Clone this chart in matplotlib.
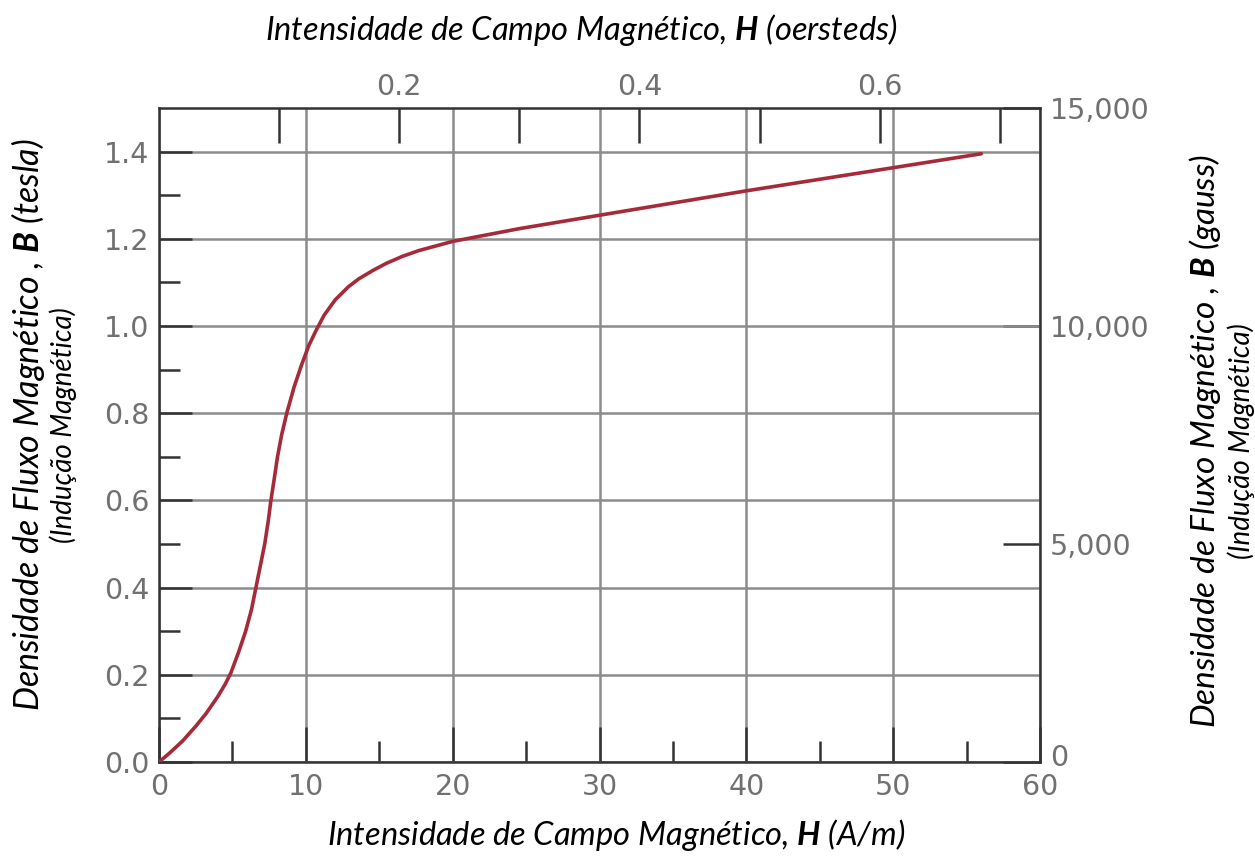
import numpy as np
import matplotlib
matplotlib.use('Agg')
import matplotlib.pyplot as plt
import matplotlib.transforms as mtransforms

# B-H curve (H in A/m, B in tesla)
H_am = [0, 0.7, 1.6, 2.5, 3.2, 4.0, 4.5, 4.9, 5.4, 5.9, 6.3, 6.6, 6.9, 7.2, 7.45,
        7.6, 7.85, 8.07, 8.35, 8.7, 9.2, 9.7, 10.2, 10.7, 11.25, 12.0, 12.9, 13.6,
        14.6, 15.5, 16.6, 17.7, 20, 24.5, 30, 40, 50, 56]
B_t = [0, 0.02, 0.048, 0.082, 0.111, 0.15, 0.178, 0.205, 0.25, 0.30, 0.35, 0.40,
       0.45, 0.50, 0.555, 0.595, 0.65, 0.70, 0.75, 0.80, 0.86, 0.91, 0.955, 0.99,
       1.025, 1.06, 1.09, 1.108, 1.128, 1.144, 1.16, 1.173, 1.194, 1.223, 1.254,
       1.31, 1.363, 1.395]

x_major = [0, 10, 20, 30, 40, 50, 60]
x_minor = [5, 15, 25, 35, 45, 55]
y_major = [0.0, 0.2, 0.4, 0.6, 0.8, 1.0, 1.2, 1.4]
y_minor = [0.1, 0.3, 0.5, 0.7, 0.9, 1.1, 1.3]
oe_major = [0.2, 0.4, 0.6]
oe_minor = [0.1, 0.3, 0.5, 0.7]
gauss_ticks = [0, 5000, 10000, 15000]
gauss_labels = ['0', '5,000', '10,000', '15,000']

AM_PER_OE = 81.8     # as drawn on the chart's top scale
GAUSS_PER_T = 10000

plt.rcParams['mathtext.fontset'] = 'custom'
plt.rcParams['mathtext.bfit'] = 'Lato:italic:bold'
plt.rcParams['mathtext.it'] = 'Lato:italic'
plt.rcParams['mathtext.rm'] = 'Lato'

TICK_COL = '#707070'
SPINE_COL = '#333333'
GRID_COL = '#8c8c8c'
CURVE_COL = '#a52a3a'
TICK_FS = 20.5

fig = plt.figure(figsize=(12.55, 8.59), dpi=100)
ax = fig.add_axes([0.1267, 0.1129, 0.702, 0.7614])

ax.plot(H_am, B_t, color=CURVE_COL, lw=2.6, solid_capstyle='round',
        solid_joinstyle='round', zorder=3)

ax.set_xlim(0, 60)
ax.set_ylim(0, 1.5)
ax.set_xticks(x_major)
ax.set_xticks(x_minor, minor=True)
ax.set_yticks(y_major)
ax.set_yticks(y_minor, minor=True)
ax.set_yticklabels([f'{v:.1f}' for v in y_major])
ax.grid(True, which='major', color=GRID_COL, lw=1.8)

for s in ax.spines.values():
    s.set_color(SPINE_COL)
    s.set_linewidth(1.8)

ax.tick_params(axis='x', which='major', direction='in', length=25, width=1.8,
               color=SPINE_COL, labelsize=TICK_FS, labelcolor=TICK_COL, pad=8)
ax.tick_params(axis='x', which='minor', direction='in', length=15, width=1.8,
               color=SPINE_COL)
ax.tick_params(axis='y', which='major', direction='in', length=24, width=1.8,
               color=SPINE_COL, labelsize=TICK_FS, labelcolor=TICK_COL, pad=7)
ax.tick_params(axis='y', which='minor', direction='in', length=15, width=1.8,
               color=SPINE_COL)

# top scale in oersteds
top = ax.secondary_xaxis('top', functions=(lambda h: h / AM_PER_OE,
                                           lambda o: o * AM_PER_OE))
top.set_xticks(oe_major)
top.set_xticks(oe_minor, minor=True)
top.set_xticklabels([f'{v:.1f}' for v in oe_major])
top.tick_params(which='both', direction='in', length=25, width=1.8,
                color=SPINE_COL, labelsize=TICK_FS, labelcolor=TICK_COL, pad=5)
top.spines['top'].set_visible(False)

# right scale in gauss
right = ax.secondary_yaxis('right', functions=(lambda b: b * GAUSS_PER_T,
                                               lambda g: g / GAUSS_PER_T))
right.set_yticks(gauss_ticks)
right.set_yticklabels(gauss_labels)
right.tick_params(direction='in', length=27, width=1.8, color=SPINE_COL,
                  labelsize=TICK_FS, labelcolor=TICK_COL, pad=7)
right.spines['right'].set_visible(False)
# nudge the "0" up a few pixels so it clears the "60"
zero = right.get_yticklabels()[0]
zero.set_transform(zero.get_transform() +
                   mtransforms.ScaledTranslation(0, 5 / 72, fig.dpi_scale_trans))

lab = dict(family='Lato', style='italic', color='black')
fig.text(0.463, 0.965, r'Intensidade de Campo Magnético, $\mathbfit{H}$ (oersteds)',
         ha='center', va='center', fontsize=23.5, **lab)
fig.text(0.491, 0.028, r'Intensidade de Campo Magnético, $\mathbfit{H}$ (A/m)',
         ha='center', va='center', fontsize=23.5, **lab)
fig.text(0.022, 0.505, r'Densidade de Fluxo Magnético , $\mathbfit{B}$ (tesla)',
         ha='center', va='center', rotation=90, fontsize=24.5, **lab)
fig.text(0.050, 0.505, '(Indução Magnética)',
         ha='center', va='center', rotation=90, fontsize=20, **lab)
fig.text(0.960, 0.487, r'Densidade de Fluxo Magnético , $\mathbfit{B}$ (gauss)',
         ha='center', va='center', rotation=90, fontsize=24, **lab)
fig.text(0.989, 0.487, '(Indução Magnética)',
         ha='center', va='center', rotation=90, fontsize=20, **lab)

fig.savefig('out.png', dpi=100)
